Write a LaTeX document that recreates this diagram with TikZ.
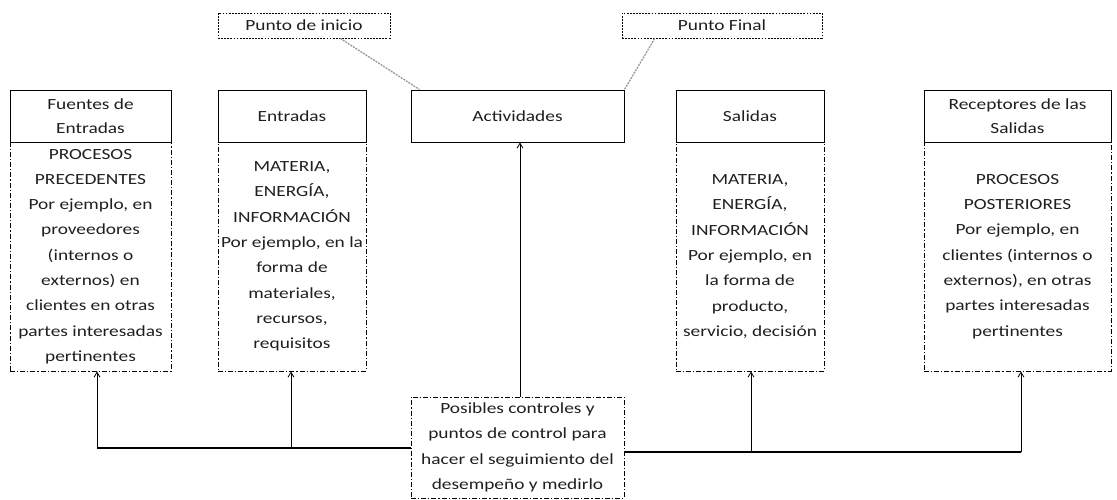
\documentclass[tikz,border=0pt]{standalone}
\usepackage{fontspec}
\setmainfont{Carlito}[FakeStretch=1.25]
\usetikzlibrary{arrows.meta,calc}
\begin{document}
\begin{tikzpicture}[x=1pt,y=-1pt,
  txt/.style={font=\fontsize{15.5}{25.3}\selectfont, align=center, text=black!88},
  hdr/.style={txt, draw, line width=0.9pt, fill=white, inner sep=0pt, font=\fontsize{15.5}{24}\selectfont},
  bodybox/.style={txt, draw, line width=0.9pt, inner sep=0pt, dash pattern=on 5pt off 2pt on 1.2pt off 2pt},
  tagbox/.style={txt, draw, line width=0.9pt, inner sep=0pt, dash pattern=on 1.8pt off 1.3pt},
  arr/.style={line width=0.8pt, -{Straight Barb[length=5pt,width=6pt]}},
  conn/.style={line width=1.2pt},
  lead/.style={draw=black!40, line width=1.3pt, dash pattern=on 2pt off 1pt}]
\useasboundingbox (0,0) rectangle (1117,500);
% bodies
\node[bodybox, minimum width=161pt, minimum height=229pt] (fb) at (90.5,256.5) {PROCESOS\\PRECEDENTES\\Por ejemplo, en\\proveedores\\(internos o\\externos) en\\clientes en otras\\partes interesadas\\pertinentes};
\node[bodybox, minimum width=148pt, minimum height=229pt] (eb) at (292,256.5) {MATERIA,\\ENERGÍA,\\INFORMACIÓN\\Por ejemplo, en la\\forma de\\materiales,\\recursos,\\requisitos};
\node[bodybox, minimum width=148pt, minimum height=229pt] (sb) at (750,256.5) {MATERIA,\\ENERGÍA,\\INFORMACIÓN\\Por ejemplo, en\\la forma de\\producto,\\servicio, decisión};
\node[bodybox, minimum width=187pt, minimum height=229pt] (rb) at (1017.5,256.5) {PROCESOS\\POSTERIORES\\Por ejemplo, en\\clientes (internos o\\externos), en otras\\partes interesadas\\pertinentes};
% headers
\node[hdr, minimum width=161pt, minimum height=52pt] (fh) at (90.5,116) {Fuentes de\\Entradas};
\node[hdr, minimum width=148pt, minimum height=52pt] (eh) at (292,116) {Entradas};
\node[hdr, minimum width=213pt, minimum height=52pt] (act) at (517.5,116) {Actividades};
\node[hdr, minimum width=148pt, minimum height=52pt] (sh) at (750,116) {Salidas};
\node[hdr, minimum width=187pt, minimum height=52pt] (rh) at (1017.5,116) {Receptores de las\\Salidas};
% tags
\node[tagbox, minimum width=172pt, minimum height=25pt] (pi) at (304,25.5) {Punto de inicio};
\node[tagbox, minimum width=200pt, minimum height=25pt] (pf) at (722,25.5) {Punto Final};
\draw[lead] ($(pi.south west)!0.71!(pi.south east)$) -- ($(act.north west)+(9,0)$);
\draw[lead] ($(pf.south west)!0.165!(pf.south east)$) -- (act.north east);
% control
\node[bodybox, minimum width=213pt, minimum height=101pt] (ctrl) at (517.5,447.5) {Posibles controles y\\puntos de control para\\hacer el seguimiento del\\desempeño y medirlo};
\coordinate (l1) at (97,448);
\coordinate (l2) at (291,448);
\coordinate (r1) at (751,452);
\coordinate (r2) at (1021,452);
\draw[conn] (l1) -- (l1 -| ctrl.west);
\draw[conn] (r2) -- (r2 -| ctrl.east);
\draw[arr] (l1) -- (l1 |- fb.south);
\draw[arr] (l2) -- (l2 |- eb.south);
\draw[arr] (r1) -- (r1 |- sb.south);
\draw[arr] (r2) -- (r2 |- rb.south);
\draw[arr] ($(ctrl.north)+(2.5,0)$) -- ($(act.south)+(2.5,0)$);
\end{tikzpicture}
\end{document}
